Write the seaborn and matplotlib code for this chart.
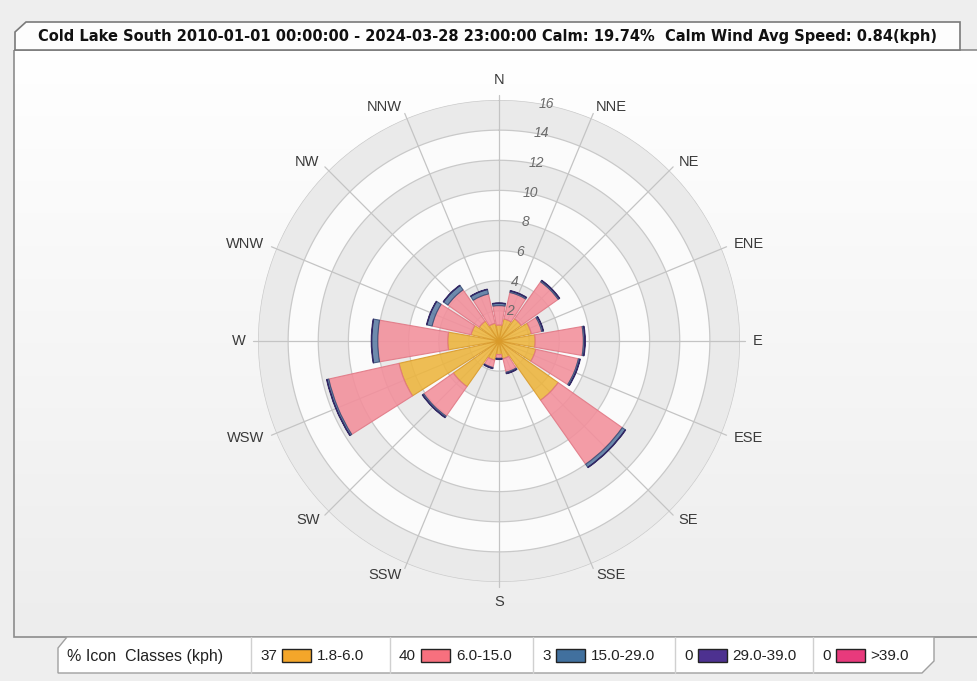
import numpy as np
import pandas as pd
import matplotlib
matplotlib.use("Agg")
import matplotlib.pyplot as plt
from matplotlib.patches import Polygon, Rectangle
from matplotlib.colors import LinearSegmentedColormap
import seaborn as sns

# ---- data ----
station = "Cold Lake South"
period = "2010-01-01 00:00:00 - 2024-03-28 23:00:00"
calm_pct = 19.74
calm_speed = 0.84

directions = ["N", "NNE", "NE", "ENE", "E", "ESE", "SE", "SSE",
              "S", "SSW", "SW", "WSW", "W", "WNW", "NW", "NNW"]
speed_classes = ["1.8-6.0", "6.0-15.0", "15.0-29.0", "29.0-39.0", ">39.0"]
class_pct = [37, 40, 3, 0, 0]

# frequency (%) per direction for each speed class
freq_1_8 = [1.06, 1.5, 1.8, 2.2, 2.4, 2.5, 4.8, 1.2, 0.9, 1.3, 3.7, 6.8, 3.4, 1.9, 1.6, 1.2]
freq_6_15 = [1.29, 1.8, 3.0, 0.7, 3.2, 2.9, 5.2, 0.92, 0.25, 0.5, 2.4, 4.78, 4.65, 2.65, 2.55, 2.0]
freq_15_29 = [0.15, 0.1, 0.1, 0.1, 0.1, 0.1, 0.25, 0.08, 0.05, 0.05, 0.1, 0.12, 0.4, 0.35, 0.35, 0.3]
freq_29_39 = [0.03, 0.03, 0.03, 0.03, 0.03, 0.03, 0.03, 0.03, 0.03, 0.03, 0.03, 0.03, 0.03, 0.03, 0.03, 0.03]
freq_39 = [0, 0, 0, 0, 0, 0, 0, 0, 0, 0, 0, 0, 0, 0, 0, 0]

ring_ticks = [2, 4, 6, 8, 10, 12, 14, 16]

df = pd.DataFrame({"dir": directions,
                   speed_classes[0]: freq_1_8,
                   speed_classes[1]: freq_6_15,
                   speed_classes[2]: freq_15_29,
                   speed_classes[3]: freq_29_39,
                   speed_classes[4]: freq_39})

sns.set_style("white")
plt.rcParams["font.family"] = ["Liberation Sans", "DejaVu Sans"]

bar_colors = sns.color_palette(["#edb53d", "#f38f9b", "#5a7ba3", "#4a3585", "#e8387a"])
bar_edges = ["#d99a2a", "#e07784", "#3a4f78", "#2e2260", "#b0205a"]
swatch_colors = ["#f4a62a", "#f7707e", "#41709e", "#4d3190", "#e83a7c"]

W, H = 977, 681
fig = plt.figure(figsize=(W / 100, H / 100), dpi=100, facecolor="#eeeeee")
renderer = fig.canvas.get_renderer()

# ---- frame, title tab and legend tab in pixel coordinates ----
bg = fig.add_axes([0, 0, 1, 1], zorder=0)
grad = np.linspace(0, 1, 256).reshape(-1, 1)
bg.imshow(grad, extent=(14, W + 5, 637, 50), aspect="auto",
          cmap=LinearSegmentedColormap.from_list("panel", ["#ffffff", "#ededed"]))
bg.set_xlim(0, W)
bg.set_ylim(H, 0)
bg.axis("off")
bg.add_patch(Rectangle((14, 50), W, 587, fill=False, ec="#8c8c8c", lw=1.2))
bg.add_patch(Polygon([(15, 50), (15, 32), (26, 22), (960, 22), (960, 50)],
                     closed=True, fc="#fdfdfd", ec="#7a7a7a", lw=1.2))
bg.add_patch(Polygon([(67, 637), (58, 648), (58, 673), (922, 673), (934, 661), (934, 637)],
                     closed=True, fc="#ffffff", ec="#a0a0a0", lw=1.0))


def fit(t, width):
    w = t.get_window_extent(renderer).width
    t.set_fontsize(t.get_fontsize() * width / w)


title = bg.text(487, 37, f"{station} {period} Calm: {calm_pct:.2f}%  Calm Wind Avg Speed: {calm_speed}(kph)",
                ha="center", va="center", fontsize=10, fontweight="bold", color="#111111",
                family=["DejaVu Sans"])
fit(title, 896)

legend_font = ["Liberation Sans Narrow", "Liberation Sans"]
bg.text(67, 656, "% Icon  Classes (kph)", ha="left", va="center", fontsize=11.5,
        color="#222222", family=legend_font)

dividers = [251, 390, 533, 675, 813]
for i, x0 in enumerate(dividers):
    bg.plot([x0, x0], [637, 673], color="#d0d0d0", lw=1)
    num = bg.text(x0 + 9, 656, str(class_pct[i]), ha="left", va="center", fontsize=11,
                  color="#222222", family=legend_font)
    nw = num.get_window_extent(renderer).width
    sx = x0 + 9 + nw + 5
    bg.add_patch(Rectangle((sx, 649), 29, 13, fc=swatch_colors[i], ec="#222222", lw=1))
    bg.text(sx + 35, 656, speed_classes[i], ha="left", va="center", fontsize=11,
            color="#222222", family=legend_font)

# ---- wind rose ----
cx, cy, rad = 499, 341, 241
ax = fig.add_axes([(cx - rad) / W, (H - cy - rad) / H, 2 * rad / W, 2 * rad / H],
                  projection="polar", zorder=2)
ax.set_theta_zero_location("N")
ax.set_theta_direction(-1)
ax.set_ylim(0, 16)
ax.set_axis_off()

theta = np.radians(np.arange(len(directions)) * 22.5)
full = np.linspace(0, 2 * np.pi, 400)

# background disc and alternating bands
ax.bar(0, 16, width=2 * np.pi, bottom=0, color="#fbfbfb", edgecolor="none", zorder=0)
for r0 in [2, 6, 10, 14]:
    ax.bar(0, 2, width=2 * np.pi, bottom=r0, color="#eaeaea", edgecolor="none", zorder=0)
for r in ring_ticks:
    ax.plot(full, np.full_like(full, r), color="#c9c9c9", lw=0.9, zorder=1)
for th in theta:
    ax.plot([th, th], [0, 16.35], color="#c4c4c4", lw=0.9, zorder=1, clip_on=False)

# stacked bars
bottom = np.zeros(len(directions))
for i, cls in enumerate(speed_classes):
    vals = df[cls].to_numpy(dtype=float)
    mask = vals > 0
    ax.bar(theta[mask], vals[mask], width=np.radians(22.5) * 0.88, bottom=bottom[mask],
           color=bar_colors[i], edgecolor=bar_edges[i], lw=0.8, alpha=0.88, zorder=3)
    bottom += vals

# ring labels
for r in ring_ticks:
    ax.annotate(str(r), xy=(np.radians(10), r), xytext=(4, 0), textcoords="offset points",
                ha="center", va="center", fontsize=10, style="italic", color="#6a6a6a",
                zorder=5, annotation_clip=False)

# direction labels
for th, name in zip(theta, directions):
    s = np.sin(th)
    ha = "left" if s > 0.01 else ("right" if s < -0.01 else "center")
    va = "center"
    if name == "N":
        va = "bottom"
    elif name == "S":
        va = "top"
    ax.text(th, 16.85, name, ha=ha, va=va, fontsize=10.5, color="#3a3a3a", clip_on=False)

fig.savefig("out.png", dpi=100, facecolor=fig.get_facecolor())
